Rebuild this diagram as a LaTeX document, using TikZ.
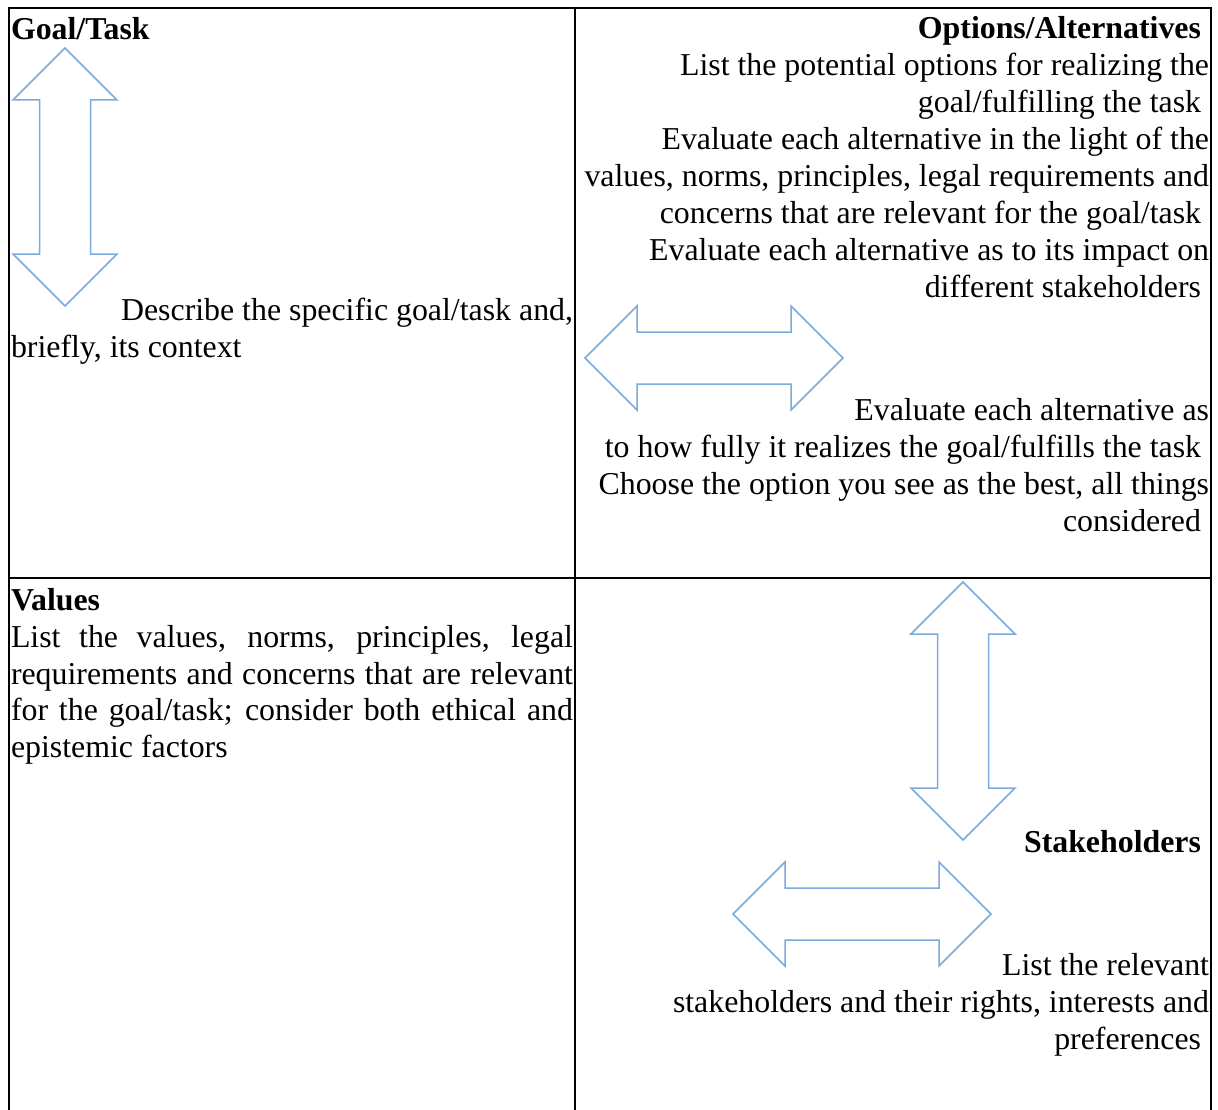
\documentclass[tikz,border=0pt]{standalone}
\usepackage{fontspec}
\setmainfont{Liberation Serif}[Ligatures=NoCommon]
\definecolor{arrowblue}{RGB}{125,170,220}
\begin{document}
\begin{tikzpicture}[x=1pt,y=-1pt,
  grid/.style={line width=2pt,black},
  barrow/.style={draw=arrowblue,line width=1.5pt,fill=white,line join=miter},
  txt/.style={inner sep=0pt,outer sep=0pt,font=\fontsize{31.85}{36.8}\selectfont},
  hd/.style={txt,font=\fontsize{31.85}{36.8}\selectfont\bfseries},
  vdarrow/.pic={\path[barrow] (0,-129) -- (52,-77) -- (25.5,-77) -- (25.5,77) -- (52,77) -- (0,129) -- (-52,77) -- (-25.5,77) -- (-25.5,-77) -- (-52,-77) -- cycle;},
  hdarrow/.pic={\path[barrow] (-129,0) -- (-77,-52) -- (-77,-26) -- (77,-26) -- (77,-52) -- (129,0) -- (77,52) -- (77,26) -- (-77,26) -- (-77,52) -- cycle;}
]
\useasboundingbox (0,0) rectangle (1218,1110);
\fill[white] (0,0) rectangle (1218,1110);
% table grid
\coordinate (bl) at (9,1111);
\coordinate (tl) at (9,8);
\coordinate (tr) at (1211,8);
\coordinate (br) at (1211,1111);
\coordinate (mt) at (575,8);
\coordinate (mb) at (575,1111);
\coordinate (ml) at (9,578);
\coordinate (mr) at (1211,578);
\draw[grid,line join=miter] (bl) -- (tl) -- (tr) -- (br);
\draw[grid] (mt) -- (mb);
\draw[grid] (ml) -- (mr);
% arrows
\pic (a1) at (65,177) {vdarrow};
\pic (a2) at (714,358) {hdarrow};
\pic (a3) at (963,711) {vdarrow};
\pic (a4) at (862,914) {hdarrow};
% Goal/Task cell
\node[hd,anchor=base west] (g0) at (11,40) {Goal/Task};
\node[txt,anchor=base east] (g1) at (573,320) {Describe the specific goal/task and,};
\node[txt,anchor=base west] (g2) at (11,357) {briefly, its context};
% Options cell
\node[hd,anchor=base east] (o0) at (1201,39) {Options/Alternatives};
\node[txt,anchor=base east] (o1) at (1209,76) {List the potential options for realizing the};
\node[txt,anchor=base east] (o2) at (1201,113) {goal/fulfilling the task};
\node[txt,anchor=base east] (o3) at (1209,150) {Evaluate each alternative in the light of the};
\node[txt,anchor=base east] (o4) at (1209,187) {values, norms, principles, legal requirements and};
\node[txt,anchor=base east] (o5) at (1201,224) {concerns that are relevant for the goal/task};
\node[txt,anchor=base east] (o6) at (1209,260) {Evaluate each alternative as to its impact on};
\node[txt,anchor=base east] (o7) at (1201,297) {different stakeholders};
\node[txt,anchor=base east] (o8) at (1209,420) {Evaluate each alternative as};
\node[txt,anchor=base east] (o9) at (1201,457) {to how fully it realizes the goal/fulfills the task};
\node[txt,anchor=base east] (o10) at (1209,494) {Choose the option you see as the best, all things};
\node[txt,anchor=base east] (o11) at (1201,531) {considered};
% Values cell
\node[hd,anchor=base west] (v0) at (11,610) {Values};
\node[txt,anchor=base west] (v1) at (11,647) {\makebox[562pt][s]{List the values, norms, principles, legal}};
\node[txt,anchor=base west] (v2) at (11,684) {\makebox[562pt][s]{requirements and concerns that are relevant}};
\node[txt,anchor=base west] (v3) at (11,720.5) {\makebox[562pt][s]{for the goal/task; consider both ethical and}};
\node[txt,anchor=base west] (v4) at (11,757) {epistemic factors};
% Stakeholders cell
\node[hd,anchor=base east] (s0) at (1201,852) {Stakeholders};
\node[txt,anchor=base east] (s1) at (1209,975) {List the relevant};
\node[txt,anchor=base east] (s2) at (1209,1012) {stakeholders and their rights, interests and};
\node[txt,anchor=base east] (s3) at (1201,1049) {preferences};
\end{tikzpicture}
\end{document}
